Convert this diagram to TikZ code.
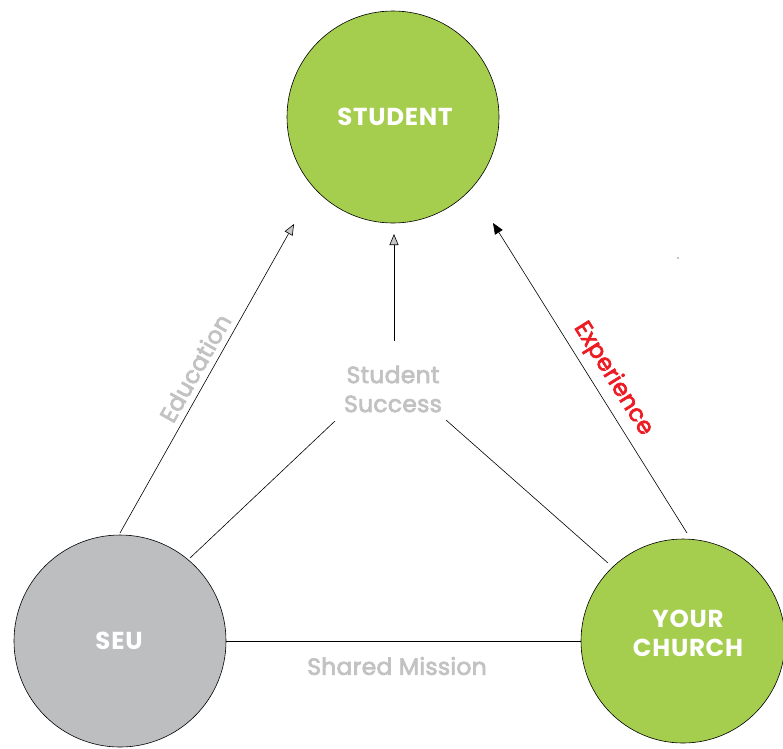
\documentclass[tikz,border=0pt]{standalone}
\usepackage{fontspec}
\setmainfont{Poppins}
\newfontfamily\circfont[LetterSpace=3]{Poppins}
\newfontfamily\lblfont[LetterSpace=1,FakeBold=3]{Poppins}
\usetikzlibrary{arrows.meta}
\definecolor{cgreen}{HTML}{A5CD4E}
\definecolor{cgray}{HTML}{BDBEC0}
\definecolor{ltext}{HTML}{C2C2C2}
\definecolor{cred}{HTML}{ED1C24}
\tikzset{
  bigcircle/.style={circle, draw=black, line width=0.6pt, minimum size=212pt, inner sep=0pt},
  circtext/.style={text=white, font=\circfont\bfseries\fontsize{24.5}{29}\selectfont, align=center, inner sep=0pt},
  conn/.style={black, line width=0.6pt},
  grayarrow/.style={conn, -{Triangle[length=11pt,width=9pt,fill=gray!45]}},
  blackarrow/.style={conn, -{Triangle[length=11pt,width=9pt]}},
  lbl/.style={text=ltext, font=\lblfont\fontsize{23.5}{29}\selectfont, align=center, inner sep=0pt}
}
\begin{document}
\begin{tikzpicture}[x=1pt,y=-1pt]
\useasboundingbox (0,0) rectangle (783,748);
\node[bigcircle, fill=cgreen] (student) at (393,117) {};
\node[bigcircle, fill=cgray] (seu) at (120,641) {};
\node[bigcircle, fill=cgreen, minimum size=204pt] (church) at (683,641) {};
\node[circtext] (studenttxt) at (395,117) {STUDENT};
\node[circtext] (seutxt) at (119,641) {SEU};
\node[circtext] (churchtxt) at (688,633) {YOUR\\CHURCH};
\node[lbl] (success) at (393,389) {Student\\Success};
\node[lbl] (shared) at (397,666) {Shared Mission};
\coordinate (eduS) at (120,533);
\coordinate (eduE) at (294,224);
\coordinate (midS) at (394,341);
\coordinate (midE) at (394,234);
\coordinate (expS) at (687,533);
\coordinate (expE) at (493,223);
\coordinate (ssL) at (335,421);
\coordinate (seuR) at (190,558);
\coordinate (ssR) at (446,420);
\coordinate (chL) at (608,563);
\draw[grayarrow] (eduS) -- (eduE);
\draw[grayarrow] (midS) -- (midE);
\draw[blackarrow] (expS) -- (expE);
\draw[conn] (seuR) -- (ssL);
\draw[conn] (ssR) -- (chL);
\draw[conn] (seu.east) -- (church.west);
\node[lbl, rotate=60.5] (edu) at (195,368) {Education};
\node[lbl, text=cred, rotate=-58] (exp) at (613,379) {Experience};
\fill (678,258) circle (0.7pt);
\end{tikzpicture}
\end{document}
